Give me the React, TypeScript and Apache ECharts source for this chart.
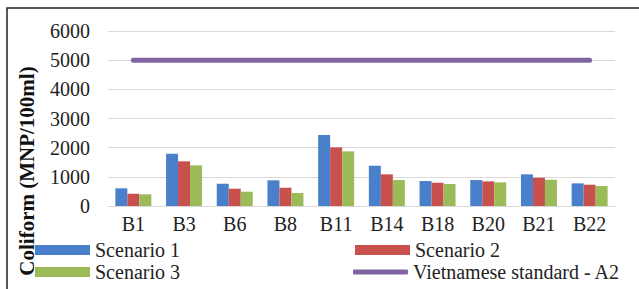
import React, { useEffect, useRef } from "react";
import * as echarts from "echarts";

const categories = ["B1", "B3", "B6", "B8", "B11", "B14", "B18", "B20", "B21", "B22"];
const scenario1 = [606, 1791, 764, 880, 2431, 1381, 856, 890, 1085, 776];
const scenario2 = [421, 1531, 593, 627, 2010, 1085, 798, 845, 970, 730];
const scenario3 = [400, 1394, 490, 445, 1873, 890, 753, 811, 901, 685];
const standardA2 = [5000, 5000, 5000, 5000, 5000, 5000, 5000, 5000, 5000, 5000];
const yTicks = { min: 0, max: 6000, interval: 1000 };

const SERIF = "'Liberation Serif', 'Times New Roman', serif";

function legendAt(name: string, left: number, top: number, h: number, icon: string) {
  return {
    left,
    top,
    itemWidth: 55,
    itemHeight: h,
    itemStyle: { borderWidth: 0 },
    textStyle: { fontFamily: SERIF, fontSize: 20, color: "#222", lineHeight: 20 },
    padding: 0,
    data: [{ name, icon }],
  };
}

export default function App() {
  const ref = useRef<HTMLDivElement>(null);
  useEffect(() => {
    document.body.style.margin = "0";
    const chart = echarts.init(ref.current!, null, { renderer: "svg" });
    const barCommon = { type: "bar", barWidth: 12, barGap: "0%" };
    chart.setOption({
      animation: false,
      backgroundColor: "#ffffff",
      textStyle: { fontFamily: SERIF, fontSize: 20, color: "#222" },
      grid: { left: 108, right: 24, top: 31, bottom: 83 },
      xAxis: {
        type: "category",
        data: categories,
        axisLine: { show: true, lineStyle: { color: "#d9d9d9", width: 1 } },
        axisTick: { show: false },
        axisLabel: { fontFamily: SERIF, fontSize: 20, color: "#222", margin: 8 },
      },
      yAxis: {
        type: "value",
        min: yTicks.min,
        max: yTicks.max,
        interval: yTicks.interval,
        axisLine: { show: false },
        axisTick: { show: false },
        splitLine: { lineStyle: { color: "#d9d9d9", width: 1 } },
        axisLabel: {
          fontFamily: SERIF,
          fontSize: 20,
          color: "#222",
          margin: 18,
          formatter: (v: number) => String(v),
        },
      },
      legend: [
        legendAt("Scenario 1", 35, 240, 10, "rect"),
        legendAt("Scenario 3", 35, 262, 10, "rect"),
        legendAt("Scenario 2", 355, 240, 10, "rect"),
        legendAt("Vietnamese standard - A2", 353, 262, 5, "roundRect"),
      ],
      graphic: [
        {
          type: "text",
          x: 27,
          y: 171,
          rotation: Math.PI / 2,
          style: {
            text: "Coliform (MNP/100ml)",
            fontFamily: SERIF,
            fontWeight: "bold",
            fontSize: 21,
            fill: "#111",
            align: "center",
            verticalAlign: "middle",
          },
        },
        {
          type: "rect",
          shape: { x: 7, y: 8, width: 660, height: 320 },
          style: { fill: "none", stroke: "#222", lineWidth: 1.5 },
          silent: true,
        },
      ],
      series: [
        { ...barCommon, name: "Scenario 1", data: scenario1, itemStyle: { color: "#4a7fcb" } },
        { ...barCommon, name: "Scenario 2", data: scenario2, itemStyle: { color: "#c8504d" } },
        { ...barCommon, name: "Scenario 3", data: scenario3, itemStyle: { color: "#9bbb59" } },
        {
          type: "line",
          name: "Vietnamese standard - A2",
          data: standardA2,
          symbol: "none",
          lineStyle: { color: "#8064a2", width: 5, cap: "round" },
          itemStyle: { color: "#8064a2" },
          z: 5,
        },
      ],
    });
    return () => chart.dispose();
  }, []);
  return <div ref={ref} style={{ width: 639, height: 289 }} />;
}
